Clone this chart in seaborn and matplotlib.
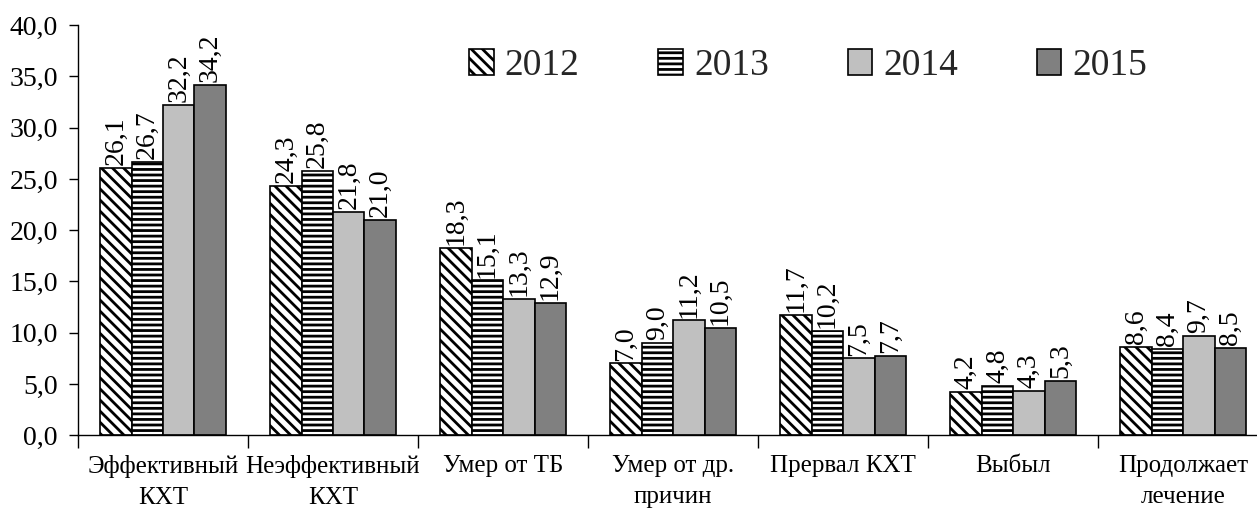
import matplotlib
matplotlib.use("Agg")
import matplotlib.pyplot as plt
import numpy as np
import pandas as pd
import seaborn as sns
from matplotlib.ticker import FuncFormatter, FixedLocator

categories = [
    "Эффективный\nКХТ",
    "Неэффективный\nКХТ",
    "Умер от ТБ",
    "Умер от др.\nпричин",
    "Прервал КХТ",
    "Выбыл",
    "Продолжает\nлечение",
]
years = ["2012", "2013", "2014", "2015"]
values_2012 = [26.1, 24.3, 18.3, 7.0, 11.7, 4.2, 8.6]
values_2013 = [26.7, 25.8, 15.1, 9.0, 10.2, 4.8, 8.4]
values_2014 = [32.2, 21.8, 13.3, 11.2, 7.5, 4.3, 9.7]
values_2015 = [34.2, 21.0, 12.9, 10.5, 7.7, 5.3, 8.5]

colors = ["white", "white", "#c0c0c0", "#808080"]
hatches = ["\\\\\\", "---", "", ""]

df = pd.DataFrame({
    "category": categories * 4,
    "year": np.repeat(years, len(categories)),
    "value": values_2012 + values_2013 + values_2014 + values_2015,
})

sns.set_theme(style="white")
plt.rcParams["font.family"] = ["Liberation Serif", "DejaVu Serif"]
plt.rcParams["hatch.linewidth"] = 2.0
plt.rcParams["hatch.color"] = "black"

fig = plt.figure(figsize=(12.57, 5.15), dpi=100)
ax = fig.add_axes([0.062, 0.155, 0.947, 0.796])

sns.barplot(
    data=df, x="category", y="value", hue="year",
    palette=colors, width=0.74, edgecolor="black", linewidth=1.2,
    saturation=1, legend=False, ax=ax,
)

for cont, hatch in zip(ax.containers, hatches):
    for bar in cont:
        bar.set_hatch(hatch)
        bar.set_edgecolor("black")
    labels = [f"{v:.1f}".replace(".", ",") for v in cont.datavalues]
    ax.bar_label(cont, labels=labels, rotation=90, padding=2, fontsize=20, color="black")

ax.set_xlim(-0.5, len(categories) - 0.5)
ax.set_ylim(0, 40)
ax.set_yticks(np.arange(0, 41, 5))
ax.yaxis.set_major_formatter(FuncFormatter(lambda v, p: f"{v:.1f}".replace(".", ",")))
ax.tick_params(axis="y", labelsize=20, length=6.5, width=1, colors="black", left=True, pad=8)
ax.tick_params(axis="x", which="major", labelsize=18, length=0, pad=14, colors="black")
for lbl in ax.get_xticklabels():
    lbl.set_linespacing(1.55)
ax.xaxis.set_minor_locator(FixedLocator(np.arange(-0.5, len(categories), 1.0)))
ax.tick_params(axis="x", which="minor", bottom=True, length=9, width=1, color="black")
ax.set_xlabel("")
ax.set_ylabel("")

for side in ["top", "right"]:
    ax.spines[side].set_visible(False)
for side in ["left", "bottom"]:
    ax.spines[side].set_color("black")
    ax.spines[side].set_linewidth(1)

handles = [cont.patches[0] for cont in ax.containers]
fig.legend(
    handles, years, loc="center", bbox_to_anchor=(0.643, 0.872),
    ncol=4, frameon=False, fontsize=27, handlelength=0.65, handleheight=0.65,
    handletextpad=0.3, columnspacing=2.1,
)

fig.savefig("out.png", dpi=100)
